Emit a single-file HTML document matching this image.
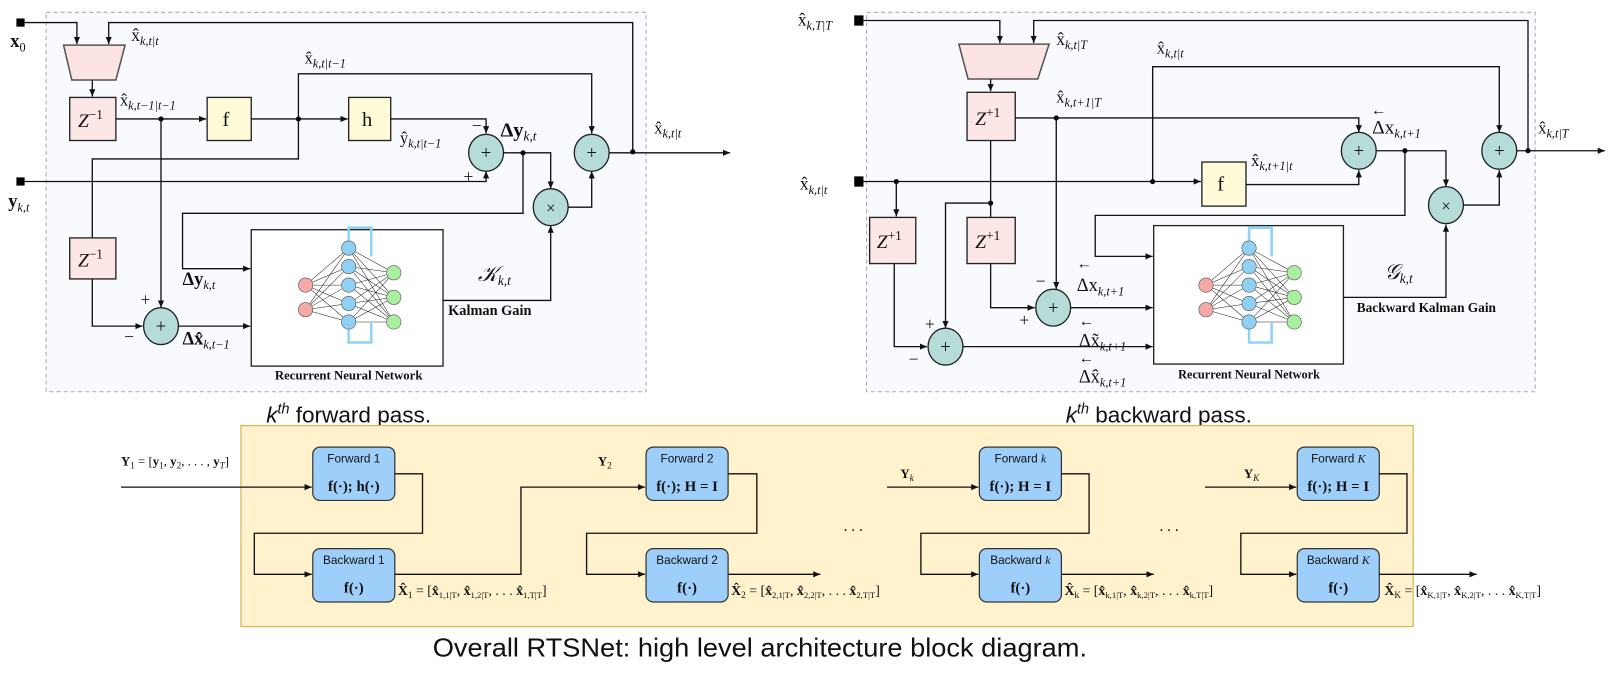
<!DOCTYPE html>
<html><head><meta charset="utf-8"><style>
body{margin:0;background:#fff;}
svg{display:block;}
.s{font-family:"Liberation Serif",serif;fill:#111;}
.ss{font-family:"Liberation Sans",sans-serif;fill:#111;}
.ln{fill:none;stroke:#111;stroke-width:1.3;}
.bx{stroke:#222;stroke-width:1.3;}
.op{fill:#b5dcd8;stroke:#222;stroke-width:1.3;}
.fb{fill:#9ecffa;stroke:#333;stroke-width:1.2;}
</style></head><body>
<svg width="1608" height="674" viewBox="0 0 1608 674" xmlns="http://www.w3.org/2000/svg">
<defs>
<marker id="a" markerWidth="8" markerHeight="8" refX="7" refY="4" orient="auto" markerUnits="userSpaceOnUse"><path d="M0,1 L7,4 L0,7 z" fill="#111"/></marker>
<g id="nn">
 <g stroke="#222" stroke-width="0.5">
  <path d="M-42,-12 L0,-48 M-42,-12 L0,-30 M-42,-12 L0,-12 M-42,-12 L0,6 M-42,-12 L0,24 M-42,12 L0,-48 M-42,12 L0,-30 M-42,12 L0,-12 M-42,12 L0,6 M-42,12 L0,24"/>
  <path d="M0,-48 L44,-24 M0,-48 L44,0 M0,-48 L44,24 M0,-30 L44,-24 M0,-30 L44,0 M0,-30 L44,24 M0,-12 L44,-24 M0,-12 L44,0 M0,-12 L44,24 M0,6 L44,-24 M0,6 L44,0 M0,6 L44,24 M0,24 L44,-24 M0,24 L44,0 M0,24 L44,24"/>
 </g>
 <path d="M0,-55 L0,-68 L22,-68 L22,-40" fill="none" stroke="#8fd3f5" stroke-width="2.5"/>
 <path d="M0,31 L0,44 L22,44 L22,24" fill="none" stroke="#8fd3f5" stroke-width="2.5"/>
 <g fill="#f4a9a8" stroke="#555" stroke-width="0.6"><circle cx="-42" cy="-12" r="7"/><circle cx="-42" cy="12" r="7"/></g>
 <g fill="#8fd0f3" stroke="#555" stroke-width="0.6"><circle cx="0" cy="-48" r="7"/><circle cx="0" cy="-30" r="7"/><circle cx="0" cy="-12" r="7"/><circle cx="0" cy="6" r="7"/><circle cx="0" cy="24" r="7"/></g>
 <g fill="#a8f0a0" stroke="#555" stroke-width="0.6"><circle cx="44" cy="-24" r="7"/><circle cx="44" cy="0" r="7"/><circle cx="44" cy="24" r="7"/></g>
</g>
</defs>
<g transform="scale(1.0255)">
<!-- ===== LEFT PANEL ===== -->
<rect x="45" y="12" width="585" height="370" fill="#f8fafd" stroke="#aaa" stroke-dasharray="4,3"/>
<rect x="16" y="18" width="8" height="8" fill="#000"/>
<text x="10" y="46" class="s" font-size="18" font-weight="bold">x<tspan font-size="12" dy="4" font-weight="normal">0</tspan></text>
<path class="ln" d="M24,22 H75 V43" marker-end="url(#a)"/>
<path class="ln" d="M617,148 V22 H106 V43" marker-end="url(#a)"/>
<path d="M62,44 H122 L113,78 H70 Z" fill="#fde4e4" stroke="#555" stroke-width="1.5"/>
<text x="128" y="40" class="s" font-size="17">x̂<tspan font-size="12" dy="4" font-style="italic">k,t|t</tspan></text>
<path class="ln" d="M90,78 V94" marker-end="url(#a)"/>
<rect x="68" y="95" width="45" height="42" fill="#fde6e6" class="bx"/>
<text x="76" y="124" class="s" font-size="19" font-style="italic">Z<tspan font-size="13" dy="-8" font-style="normal">−1</tspan></text>
<text x="117" y="103" class="s" font-size="16">x̂<tspan font-size="12" dy="4" font-style="italic">k,t−1|t−1</tspan></text>
<path class="ln" d="M113,116 H201" marker-end="url(#a)"/>
<circle cx="157" cy="116" r="2.5"/>
<rect x="202" y="95" width="43" height="42" fill="#fffbd8" class="bx"/>
<text x="217" y="123" class="s" font-size="20">f</text>
<path class="ln" d="M245,116 H339" marker-end="url(#a)"/>
<circle cx="291" cy="116" r="2.5"/>
<rect x="340" y="95" width="41" height="42" fill="#fffbd8" class="bx"/>
<text x="353" y="123" class="s" font-size="20">h</text>
<path class="ln" d="M291,116 V72 H577 V130" marker-end="url(#a)"/>
<text x="297" y="62" class="s" font-size="16">x̂<tspan font-size="12" dy="4" font-style="italic">k,t|t−1</tspan></text>
<path class="ln" d="M381,116 H474 V130" marker-end="url(#a)"/>
<text x="460" y="128" class="s" font-size="17">−</text>
<text x="390" y="140" class="s" font-size="16">ŷ<tspan font-size="12" dy="4" font-style="italic">k,t|t−1</tspan></text>
<path class="ln" d="M291,116 V155 H90 V232"/>
<rect x="16" y="173" width="8" height="8" fill="#000"/>
<text x="8" y="202" class="s" font-size="18" font-weight="bold">y<tspan font-size="12" dy="4" font-weight="normal" font-style="italic">k,t</tspan></text>
<path class="ln" d="M24,177 H474 V167" marker-end="url(#a)"/>
<text x="452" y="178" class="s" font-size="17">+</text>
<ellipse cx="474" cy="149" rx="17" ry="18" class="op"/>
<text x="474" y="155" class="s" font-size="18" text-anchor="middle">+</text>
<text x="488" y="133" class="s" font-size="20" font-weight="bold">Δy<tspan font-size="13" dy="4" font-style="italic" font-weight="normal">k,t</tspan></text>
<path class="ln" d="M491,149 H537 V184" marker-end="url(#a)"/>
<circle cx="510" cy="149" r="2.5"/>
<ellipse cx="537" cy="202" rx="17" ry="18" class="op"/>
<text x="537" y="208" class="s" font-size="16" text-anchor="middle">×</text>
<path class="ln" d="M554,202 H577 V167" marker-end="url(#a)"/>
<ellipse cx="577" cy="149" rx="17" ry="18" class="op"/>
<text x="577" y="155" class="s" font-size="18" text-anchor="middle">+</text>
<path class="ln" d="M594,149 H712" marker-end="url(#a)"/>
<circle cx="617" cy="148" r="2.5"/>
<text x="638" y="130" class="s" font-size="16">x̂<tspan font-size="12" dy="4" font-style="italic">k,t|t</tspan></text>
<path class="ln" d="M510,149 V208 H178 V262 H244" marker-end="url(#a)"/>
<rect x="245" y="224" width="187" height="133" fill="#fff" class="bx"/>
<use href="#nn" x="340" y="290"/>
<path class="ln" d="M432,293 H537 V220" marker-end="url(#a)"/>
<text x="466" y="274" class="s" font-size="21" font-style="italic">𝒦<tspan font-size="13" dy="4">k,t</tspan></text>
<text x="437" y="307" class="s" font-size="14" font-weight="bold">Kalman Gain</text>
<text x="178" y="278" class="s" font-size="18" font-weight="bold">Δy<tspan font-size="12" dy="4" font-style="italic" font-weight="normal">k,t</tspan></text>
<rect x="68" y="232" width="45" height="40" fill="#fde6e6" class="bx"/>
<text x="76" y="260" class="s" font-size="19" font-style="italic">Z<tspan font-size="13" dy="-8" font-style="normal">−1</tspan></text>
<path class="ln" d="M157,116 V300" marker-end="url(#a)"/>
<path class="ln" d="M90,272 V318 H139" marker-end="url(#a)"/>
<ellipse cx="157" cy="318" rx="17" ry="18" class="op"/>
<text x="157" y="324" class="s" font-size="18" text-anchor="middle">+</text>
<text x="137" y="298" class="s" font-size="17">+</text>
<text x="121" y="334" class="s" font-size="17">−</text>
<path class="ln" d="M174,318 H244" marker-end="url(#a)"/>
<text x="178" y="336" class="s" font-size="18" font-weight="bold">Δx̂<tspan font-size="12" dy="4" font-style="italic" font-weight="normal">k,t−1</tspan></text>
<text x="340" y="370" class="s" font-size="12.5" font-weight="bold" text-anchor="middle">Recurrent Neural Network</text>
<text x="340" y="412" class="ss" font-size="22" text-anchor="middle"><tspan font-style="italic">k</tspan><tspan font-size="14" dy="-9" font-style="italic">th</tspan><tspan dy="9"> forward pass.</tspan></text>

<!-- ===== RIGHT PANEL ===== -->
<rect x="845" y="12" width="652" height="370" fill="#f8fafd" stroke="#aaa" stroke-dasharray="4,3"/>
<text x="778" y="25" class="s" font-size="17">x̂<tspan font-size="12" dy="4" font-style="italic">k,T|T</tspan></text>
<rect x="833" y="15" width="9" height="10" fill="#000"/>
<path class="ln" d="M842,20 H975 V42" marker-end="url(#a)"/>
<path class="ln" d="M1490,148 V20 H1008 V42" marker-end="url(#a)"/>
<path d="M935,43 H1023 L1012,77 H944 Z" fill="#fde4e4" stroke="#555" stroke-width="1.5"/>
<text x="1030" y="44" class="s" font-size="17">x̂<tspan font-size="12" dy="4" font-style="italic">k,t|T</tspan></text>
<path class="ln" d="M966,77 V89" marker-end="url(#a)"/>
<rect x="943" y="90" width="47" height="47" fill="#fde6e6" class="bx"/>
<text x="951" y="122" class="s" font-size="19" font-style="italic">Z<tspan font-size="13" dy="-8" font-style="normal">+1</tspan></text>
<text x="1030" y="100" class="s" font-size="16">x̂<tspan font-size="12" dy="4" font-style="italic">k,t+1|T</tspan></text>
<path class="ln" d="M990,115 H1325 V129" marker-end="url(#a)"/>
<circle cx="1030" cy="115" r="2.5"/>
<path class="ln" d="M1124,177 V65 H1462 V129" marker-end="url(#a)"/>
<text x="1128" y="52" class="s" font-size="16">x̂<tspan font-size="12" dy="4" font-style="italic">k,t|t</tspan></text>
<text x="780" y="185" class="s" font-size="17">x̂<tspan font-size="12" dy="4" font-style="italic">k,t|t</tspan></text>
<rect x="833" y="172" width="9" height="10" fill="#000"/>
<path class="ln" d="M842,177 H1171" marker-end="url(#a)"/>
<circle cx="874" cy="177" r="2.5"/><circle cx="1124" cy="177" r="2.5"/>
<rect x="1172" y="158" width="43" height="43" fill="#fffbd8" class="bx"/>
<text x="1187" y="186" class="s" font-size="20">f</text>
<text x="1220" y="162" class="s" font-size="16">x̂<tspan font-size="12" dy="4" font-style="italic">k,t+1|t</tspan></text>
<path class="ln" d="M1215,180 H1325 V166" marker-end="url(#a)"/>
<ellipse cx="1325" cy="147" rx="17" ry="18" class="op"/>
<text x="1325" y="153" class="s" font-size="18" text-anchor="middle">+</text>
<text x="1338" y="130" class="s" font-size="19">Δx<tspan font-size="12" dy="4" font-style="italic">k,t+1</tspan></text>
<text x="1337" y="112" class="s" font-size="15">←</text>
<path class="ln" d="M1342,147 H1410 V182" marker-end="url(#a)"/>
<circle cx="1370" cy="147" r="2.5"/>
<ellipse cx="1410" cy="200" rx="17" ry="18" class="op"/>
<text x="1410" y="206" class="s" font-size="16" text-anchor="middle">×</text>
<path class="ln" d="M1427,200 H1462 V166" marker-end="url(#a)"/>
<ellipse cx="1462" cy="147" rx="17" ry="18" class="op"/>
<text x="1462" y="153" class="s" font-size="18" text-anchor="middle">+</text>
<path class="ln" d="M1479,147 H1565" marker-end="url(#a)"/>
<circle cx="1490" cy="147" r="2.5"/>
<text x="1500" y="130" class="s" font-size="16">x̂<tspan font-size="12" dy="4" font-style="italic">k,t|T</tspan></text>
<path class="ln" d="M1370,147 V210 H1068 V250 H1124" marker-end="url(#a)"/>
<rect x="1125" y="220" width="185" height="135" fill="#fff" class="bx"/>
<use href="#nn" x="1218" y="290"/>
<path class="ln" d="M1310,290 H1410 V219" marker-end="url(#a)"/>
<text x="1350" y="272" class="s" font-size="21" font-style="italic">𝒢<tspan font-size="13" dy="4">k,t</tspan></text>
<text x="1323" y="304" class="s" font-size="13" font-weight="bold">Backward Kalman Gain</text>
<path class="ln" d="M874,177 V211" marker-end="url(#a)"/>
<rect x="848" y="212" width="45" height="45" fill="#fde6e6" class="bx"/>
<text x="855" y="242" class="s" font-size="19" font-style="italic">Z<tspan font-size="13" dy="-8" font-style="normal">+1</tspan></text>
<path class="ln" d="M966,137 V212"/>
<circle cx="966" cy="198" r="2.5"/>
<rect x="943" y="212" width="47" height="45" fill="#fde6e6" class="bx"/>
<text x="951" y="242" class="s" font-size="19" font-style="italic">Z<tspan font-size="13" dy="-8" font-style="normal">+1</tspan></text>
<path class="ln" d="M966,198 H922 V320" marker-end="url(#a)"/>
<path class="ln" d="M1030,115 V282" marker-end="url(#a)"/>
<path class="ln" d="M966,257 V300 H1009" marker-end="url(#a)"/>
<ellipse cx="1027" cy="300" rx="17" ry="18" class="op"/>
<text x="1027" y="306" class="s" font-size="18" text-anchor="middle">+</text>
<text x="1010" y="280" class="s" font-size="17">−</text>
<text x="994" y="318" class="s" font-size="17">+</text>
<path class="ln" d="M1044,300 H1124" marker-end="url(#a)"/>
<path class="ln" d="M872,257 V338 H904" marker-end="url(#a)"/>
<ellipse cx="922" cy="338" rx="17" ry="18" class="op"/>
<text x="922" y="344" class="s" font-size="18" text-anchor="middle">+</text>
<text x="902" y="322" class="s" font-size="17">+</text>
<text x="886" y="356" class="s" font-size="17">−</text>
<path class="ln" d="M939,338 H1124" marker-end="url(#a)"/>
<text x="1050" y="262" class="s" font-size="15">←</text>
<text x="1050" y="284" class="s" font-size="18">Δx<tspan font-size="12" dy="4" font-style="italic">k,t+1</tspan></text>
<text x="1052" y="318" class="s" font-size="15">←</text>
<text x="1052" y="338" class="s" font-size="18">Δx̃<tspan font-size="12" dy="4" font-style="italic">k,t+1</tspan></text>
<text x="1052" y="354" class="s" font-size="15">←</text>
<text x="1052" y="373" class="s" font-size="18">Δx̂<tspan font-size="12" dy="4" font-style="italic">k,t+1</tspan></text>
<text x="1218" y="369" class="s" font-size="12" font-weight="bold" text-anchor="middle">Recurrent Neural Network</text>
<text x="1130" y="412" class="ss" font-size="22" text-anchor="middle"><tspan font-style="italic">k</tspan><tspan font-size="14" dy="-9" font-style="italic">th</tspan><tspan dy="9"> backward pass.</tspan></text>

<!-- ===== BOTTOM ===== -->
<rect x="235" y="415" width="1143" height="196" fill="#fff2cc" stroke="#d6b656" stroke-width="1.2"/>
<text x="118" y="454" class="s" font-size="12.5"><tspan font-weight="bold">Y</tspan><tspan font-size="9" dy="3">1</tspan><tspan dy="-3"> = [</tspan><tspan font-weight="bold">y</tspan><tspan font-size="9" dy="3">1</tspan><tspan dy="-3">, </tspan><tspan font-weight="bold">y</tspan><tspan font-size="9" dy="3">2</tspan><tspan dy="-3">, . . . , </tspan><tspan font-weight="bold">y</tspan><tspan font-size="9" dy="3" font-style="italic">T</tspan><tspan dy="-3">]</tspan></text>
<path class="ln" d="M118,475 H304" marker-end="url(#a)"/>
<g>
<rect x="305" y="436" width="80" height="52" rx="7" class="fb"/>
<text x="345" y="451" class="ss" font-size="11.5" text-anchor="middle">Forward 1</text>
<text x="345" y="479" class="s" font-size="14.5" font-weight="bold" text-anchor="middle">f(·); h(·)</text>
<rect x="305" y="535" width="80" height="52" rx="7" class="fb"/>
<text x="345" y="550" class="ss" font-size="11.5" text-anchor="middle">Backward 1</text>
<text x="345" y="578" class="s" font-size="14.5" font-weight="bold" text-anchor="middle">f(·)</text>
<rect x="630" y="436" width="80" height="52" rx="7" class="fb"/>
<text x="670" y="451" class="ss" font-size="11.5" text-anchor="middle">Forward 2</text>
<text x="670" y="479" class="s" font-size="14.5" font-weight="bold" text-anchor="middle">f(·); H = I</text>
<rect x="630" y="535" width="80" height="52" rx="7" class="fb"/>
<text x="670" y="550" class="ss" font-size="11.5" text-anchor="middle">Backward 2</text>
<text x="670" y="578" class="s" font-size="14.5" font-weight="bold" text-anchor="middle">f(·)</text>
<rect x="955" y="436" width="80" height="52" rx="7" class="fb"/>
<text x="995" y="451" class="ss" font-size="11.5" text-anchor="middle">Forward <tspan font-family="Liberation Serif" font-style="italic">k</tspan></text>
<text x="995" y="479" class="s" font-size="14.5" font-weight="bold" text-anchor="middle">f(·); H = I</text>
<rect x="955" y="535" width="80" height="52" rx="7" class="fb"/>
<text x="995" y="550" class="ss" font-size="11.5" text-anchor="middle">Backward <tspan font-family="Liberation Serif" font-style="italic">k</tspan></text>
<text x="995" y="578" class="s" font-size="14.5" font-weight="bold" text-anchor="middle">f(·)</text>
<rect x="1265" y="436" width="80" height="52" rx="7" class="fb"/>
<text x="1305" y="451" class="ss" font-size="11.5" text-anchor="middle">Forward <tspan font-family="Liberation Serif" font-style="italic">K</tspan></text>
<text x="1305" y="479" class="s" font-size="14.5" font-weight="bold" text-anchor="middle">f(·); H = I</text>
<rect x="1265" y="535" width="80" height="52" rx="7" class="fb"/>
<text x="1305" y="550" class="ss" font-size="11.5" text-anchor="middle">Backward <tspan font-family="Liberation Serif" font-style="italic">K</tspan></text>
<text x="1305" y="578" class="s" font-size="14.5" font-weight="bold" text-anchor="middle">f(·)</text>
</g>
<path class="ln" d="M385,462 H412 V520 H248 V560 H304" marker-end="url(#a)"/>
<path class="ln" d="M385,560 H508 V475 H629" marker-end="url(#a)"/>
<text x="583" y="454" class="s" font-size="12.5" font-weight="bold">Y<tspan font-size="9" dy="3" font-weight="normal">2</tspan></text>
<path class="ln" d="M710,462 H738 V520 H572 V560 H629" marker-end="url(#a)"/>
<path class="ln" d="M710,560 H800" marker-end="url(#a)"/>
<text x="832" y="518" class="s" font-size="15" text-anchor="middle">. . .</text>
<text x="878" y="466" class="s" font-size="12.5" font-weight="bold">Y<tspan font-size="9" dy="3" font-weight="normal" font-style="italic">k</tspan></text>
<path class="ln" d="M865,475 H954" marker-end="url(#a)"/>
<path class="ln" d="M1035,462 H1062 V520 H898 V560 H954" marker-end="url(#a)"/>
<path class="ln" d="M1035,560 H1125" marker-end="url(#a)"/>
<text x="1140" y="518" class="s" font-size="15" text-anchor="middle">. . .</text>
<text x="1213" y="466" class="s" font-size="12.5" font-weight="bold">Y<tspan font-size="9" dy="3" font-weight="normal" font-style="italic">K</tspan></text>
<path class="ln" d="M1175,475 H1264" marker-end="url(#a)"/>
<path class="ln" d="M1345,462 H1372 V520 H1210 V560 H1264" marker-end="url(#a)"/>
<path class="ln" d="M1345,560 H1440" marker-end="url(#a)"/>
<text x="388" y="580" class="s" font-size="13.5"><tspan font-weight="bold">X̂</tspan><tspan font-size="9" dy="3">1</tspan><tspan dy="-3"> = [</tspan><tspan font-weight="bold">x̂</tspan><tspan font-size="8.5" dy="3">1,1|T</tspan><tspan dy="-3">, </tspan><tspan font-weight="bold">x̂</tspan><tspan font-size="8.5" dy="3">1,2|T</tspan><tspan dy="-3">, . . . </tspan><tspan font-weight="bold">x̂</tspan><tspan font-size="8.5" dy="3">1,T|T</tspan><tspan dy="-3">]</tspan></text>
<text x="713" y="580" class="s" font-size="13.5"><tspan font-weight="bold">X̂</tspan><tspan font-size="9" dy="3">2</tspan><tspan dy="-3"> = [</tspan><tspan font-weight="bold">x̂</tspan><tspan font-size="8.5" dy="3">2,1|T</tspan><tspan dy="-3">, </tspan><tspan font-weight="bold">x̂</tspan><tspan font-size="8.5" dy="3">2,2|T</tspan><tspan dy="-3">, . . . </tspan><tspan font-weight="bold">x̂</tspan><tspan font-size="8.5" dy="3">2,T|T</tspan><tspan dy="-3">]</tspan></text>
<text x="1038" y="580" class="s" font-size="13.5"><tspan font-weight="bold">X̂</tspan><tspan font-size="9" dy="3">k</tspan><tspan dy="-3"> = [</tspan><tspan font-weight="bold">x̂</tspan><tspan font-size="8.5" dy="3">k,1|T</tspan><tspan dy="-3">, </tspan><tspan font-weight="bold">x̂</tspan><tspan font-size="8.5" dy="3">k,2|T</tspan><tspan dy="-3">, . . . </tspan><tspan font-weight="bold">x̂</tspan><tspan font-size="8.5" dy="3">k,T|T</tspan><tspan dy="-3">]</tspan></text>
<text x="1350" y="580" class="s" font-size="13.5"><tspan font-weight="bold">X̂</tspan><tspan font-size="9" dy="3">K</tspan><tspan dy="-3"> = [</tspan><tspan font-weight="bold">x̂</tspan><tspan font-size="8.5" dy="3">K,1|T</tspan><tspan dy="-3">, </tspan><tspan font-weight="bold">x̂</tspan><tspan font-size="8.5" dy="3">K,2|T</tspan><tspan dy="-3">, . . . </tspan><tspan font-weight="bold">x̂</tspan><tspan font-size="8.5" dy="3">K,T|T</tspan><tspan dy="-3">]</tspan></text>
<text x="741" y="640" class="ss" font-size="25" text-anchor="middle" textLength="638" lengthAdjust="spacingAndGlyphs">Overall RTSNet: high level architecture block diagram.</text>
</g>
</svg>
</body></html>
